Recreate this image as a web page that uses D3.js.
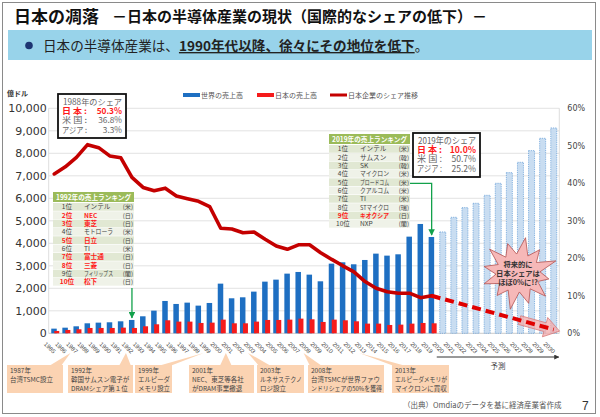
<!DOCTYPE html>
<html>
<head>
<meta charset="utf-8">
<script src="https://cdn.jsdelivr.net/npm/d3@7"></script>
<style>
  body { margin: 0; background: #fff; }
  svg { display: block; font-family: "Noto Sans CJK JP", sans-serif; }
</style>
</head>
<body>
<div id="wrapper"></div>
<script>
/* DATA */
const years = ['1985','1986','1987','1988','1989','1990','1991','1992','1993','1994',
  '1995','1996','1997','1998','1999','2000','2001','2002','2003','2004',
  '2005','2006','2007','2008','2009','2010','2011','2012','2013','2014',
  '2015','2016','2017','2018','2019','2020','2021','2022','2023','2024',
  '2025','2026','2027','2028','2029','2030'];
const actualYears = years.slice(0, 35);   // 1985-2019
const forecastYears = years.slice(35);    // 2020-2030

// 世界の売上高 (億ドル) 1985-2019
const worldSales = [207, 250, 311, 444, 474, 489, 533, 593, 756, 1007,
  1437, 1304, 1363, 1230, 1348, 2207, 1556, 1600, 1852, 2296,
  2385, 2652, 2726, 2607, 2311, 3096, 3156, 3067, 3259, 3541,
  3452, 3511, 4296, 4859, 4281];
// 予測 2020-2030
const worldForecast = [4504, 5156, 5585, 5778, 6133, 6667, 7141, 7600, 8119, 8667, 9126];
// 日本の売上高 (億ドル) 1985-2019
const japanSales = [104, 148, 178, 237, 237, 237, 252, 237, 311, 400,
  578, 519, 519, 459, 474, 607, 444, 444, 519, 593,
  593, 607, 652, 622, 504, 607, 578, 533, 430, 430,
  370, 385, 430, 459, 444];
// 日本企業のシェア推移 (%) 1985-2019
const japanShare = [42.5, 44.4, 46.9, 50.3, 49.5, 47.3, 46.8, 41.6, 38.9, 38.0,
  38.7, 36.6, 35.9, 35.2, 33.8, 28.0, 27.8, 26.8, 27.0, 25.1,
  23.3, 22.4, 23.6, 23.6, 21.5, 19.7, 18.0, 16.4, 13.8, 12.0,
  11.1, 10.7, 10.7, 9.5, 10.0];
const shareForecastYears = ['2019', '2030'];
const shareForecast = [10.0, 1.0];

const leftTicks = [0, 1000, 2000, 3000, 4000, 5000, 6000, 7000, 8000, 9000, 10000];
const rightTicks = [0, 10, 20, 30, 40, 50, 60];

const rank1992Names = ['インテル','NEC','東芝','モトローラ','日立','TI','富士通','三菱','フィリップス','松下'];
const rank1992Countries = ['米','日','日','米','日','米','日','日','蘭','日'];
const rank2019Names = ['インテル','サムスン','SK','マイクロン','ブロードコム','クアルコム','TI','STマイクロ','キオクシア','NXP'];
const rank2019Countries = ['米','韓','韓','米','米','米','米','瑞','日','蘭'];

const shareLabels = ['日 本 :', '米 国 :', 'アジア :'];
const share1988 = ['50.3%', '36.8%', '3.3%'];
const share2019 = ['10.0%', '50.7%', '25.2%'];

const events = [
  { year: '1987', lines: ['1987年', '台湾TSMC設立'] },
  { year: '1992', lines: ['1992年', '韓国サムスン電子が', 'DRAMシェア第１位'] },
  { year: '1999', lines: ['1999年', 'エルピーダ', 'メモリ設立'] },
  { year: '2001', lines: ['2001年', 'NEC、東芝等各社', 'がDRAM事業撤退'] },
  { year: '2003', lines: ['2003年', 'ルネサステクノ', 'ロジ設立'] },
  { year: '2008', lines: ['2008年', '台湾TSMCが世界ファウ', 'ンドリシェアの50%を獲得'] },
  { year: '2013', lines: ['2013年', 'エルピーダメモリが', 'マイクロンに買収'] },
];
// box spans for the event callouts (layout)
const eventBoxes = [[7, 63], [68, 133], [135, 172], [189, 254], [257, 304], [308, 384], [392, 449]];

/* DIMENSIONS */
const width = 600, height = 417;
const plot = { left: 48.7, right: 559.3, top: 108.3, bottom: 333.3 };

const svg = d3.select('#wrapper').append('svg')
  .attr('width', width).attr('height', height);

// squeeze a text into maxW if it runs wider
function fit(sel, maxW) {
  const n = sel.node();
  if (n.getComputedTextLength() > maxW) {
    sel.attr('textLength', maxW).attr('lengthAdjust', 'spacingAndGlyphs');
  }
  return sel;
}

/* SCALES */
const xScale = d3.scaleBand().domain(years).range([plot.left, plot.right]);
const cx = d => xScale(d) + xScale.bandwidth() / 2;
const yScale = d3.scaleLinear().domain([0, 10000]).range([plot.bottom, plot.top]);
const shareScale = d3.scaleLinear().domain([0, 60]).range([plot.bottom, plot.top]);

/* SLIDE FRAME + TITLE */
svg.append('rect').attr('x', 2.5).attr('y', 2.5).attr('width', 593).attr('height', 411)
  .attr('fill', 'none').attr('stroke', '#8a8a8a');

svg.append('text').attr('x', 14).attr('y', 23)
  .style('font-size', '17px').style('font-weight', 'bold').attr('fill', '#111')
  .text('日本の凋落');
svg.append('text').attr('x', 112).attr('y', 22)
  .style('font-size', '15px').style('font-weight', 'bold').attr('fill', '#111')
  .attr('textLength', 375)
  .text('－日本の半導体産業の現状（国際的なシェアの低下）－');

svg.append('rect').attr('x', 8).attr('y', 30).attr('width', 584).attr('height', 30)
  .attr('fill', '#98d3ea');
svg.append('circle').attr('cx', 29).attr('cy', 45.5).attr('r', 3.8).attr('fill', '#1d3572');
const lead = svg.append('text').attr('x', 43).attr('y', 51)
  .style('font-size', '13.6px').attr('fill', '#222');
lead.append('tspan').text('日本の半導体産業は、');
lead.append('tspan').style('font-weight', 'bold').style('text-decoration', 'underline')
  .text('1990年代以降、徐々にその地位を低下');
lead.append('tspan').text('。');

/* GRID */
const grid = svg.append('g');
grid.selectAll('line').data(leftTicks).join('line')
  .attr('x1', plot.left).attr('x2', plot.right)
  .attr('y1', d => yScale(d)).attr('y2', d => yScale(d))
  .attr('stroke', d => d === 0 ? '#bdbdbd' : '#dadada').attr('stroke-width', 0.8);
[plot.left, plot.right].forEach(xp => {
  grid.append('line').attr('x1', xp).attr('x2', xp)
    .attr('y1', plot.top).attr('y2', plot.bottom)
    .attr('stroke', '#d4d4d4').attr('stroke-width', 0.8);
});

/* AXES */
const leftAxis = svg.append('g').attr('transform', `translate(${plot.left},0)`)
  .call(d3.axisLeft(yScale).tickValues(leftTicks).tickFormat(d3.format(',')).tickSize(0).tickPadding(2));
leftAxis.select('.domain').remove();
leftAxis.selectAll('text').style('font-family', '"DejaVu Sans"').style('font-size', '11px').attr('fill', '#333');

const rightAxis = svg.append('g').attr('transform', `translate(${plot.right + 2},0)`)
  .call(d3.axisRight(shareScale).tickValues(rightTicks).tickFormat(d => d + '%').tickSize(0).tickPadding(6));
rightAxis.select('.domain').remove();
rightAxis.selectAll('text').style('font-family', '"DejaVu Sans"').style('font-size', '8px').attr('fill', '#444');

const xAxis = svg.append('g').attr('transform', `translate(0,${plot.bottom})`)
  .call(d3.axisBottom(xScale).tickSize(0));
xAxis.select('.domain').remove();
xAxis.selectAll('text')
  .attr('x', -4.5).attr('y', 14.5).attr('dy', null)
  .attr('dominant-baseline', 'central')
  .attr('transform', 'rotate(45,-4.5,14.5)')
  .style('text-anchor', 'middle')
  .style('font-family', '"Liberation Sans"').style('font-size', '6px').attr('fill', '#444');

svg.append('text').attr('x', 7).attr('y', 96)
  .style('font-size', '7px').style('font-weight', 'bold').attr('fill', '#333').text('億ドル');

/* BARS */
svg.append('g').selectAll('rect').data(forecastYears).join('rect')
  .attr('x', d => cx(d) - 3).attr('width', 6)
  .attr('y', (d, i) => yScale(worldForecast[i]))
  .attr('height', (d, i) => plot.bottom - yScale(worldForecast[i]))
  .attr('fill', '#c9ddf1').attr('stroke', '#5d9ad6').attr('stroke-width', 0.7)
  .attr('stroke-dasharray', '1.2,1');

svg.append('g').selectAll('rect').data(actualYears).join('rect')
  .attr('x', d => cx(d) - 3).attr('width', 5.5)
  .attr('y', (d, i) => yScale(worldSales[i]))
  .attr('height', (d, i) => plot.bottom - yScale(worldSales[i]))
  .attr('fill', '#1e6fc2');

svg.append('g').selectAll('rect').data(actualYears).join('rect')
  .attr('x', d => cx(d)).attr('width', 5)
  .attr('y', (d, i) => yScale(japanSales[i]))
  .attr('height', (d, i) => plot.bottom - yScale(japanSales[i]))
  .attr('fill', '#f51b1b');

/* SHARE LINE */
const shareLine = d3.line().x(d => cx(d[0])).y(d => shareScale(d[1]));
svg.append('path')
  .attr('d', shareLine(actualYears.map((y, i) => [y, japanShare[i]])))
  .attr('fill', 'none').attr('stroke', '#c40000').attr('stroke-width', 3.6)
  .attr('stroke-linejoin', 'round').attr('stroke-linecap', 'round');

// forecast: translucent block-arrow head + thick dashes
const p0 = [cx(shareForecastYears[0]), shareScale(shareForecast[0])];
const p1 = [cx(shareForecastYears[1]), shareScale(shareForecast[1])];
const len = Math.hypot(p1[0] - p0[0], p1[1] - p0[1]);
const ux = (p1[0] - p0[0]) / len, uy = (p1[1] - p0[1]) / len;
const nx = -uy, ny = ux;
const tip = [p1[0] + ux * 6, p1[1] + uy * 6];
const headBase = [tip[0] - ux * 15, tip[1] - uy * 15];
const shaftStart = [p0[0] + ux * len * 0.72, p0[1] + uy * len * 0.72];
const pt = (p, k) => [p[0] + nx * k, p[1] + ny * k];
svg.append('polygon')
  .attr('points', [pt(shaftStart, -4.5), pt(headBase, -4.5), pt(headBase, -10), tip,
    pt(headBase, 10), pt(headBase, 4.5), pt(shaftStart, 4.5)].map(p => p.join(',')).join(' '))
  .attr('fill', '#f3a9a9').attr('fill-opacity', 0.75)
  .attr('stroke', '#d77b7b').attr('stroke-width', 0.8);
svg.append('path')
  .attr('d', shareLine(shareForecastYears.map((y, i) => [y, shareForecast[i]])))
  .attr('fill', 'none').attr('stroke', '#e00000').attr('stroke-width', 4)
  .attr('stroke-dasharray', '9,5');

/* LEGEND */
const legend = svg.append('g').style('font-size', '7px').attr('fill', '#555');
legend.append('rect').attr('x', 183).attr('y', 93).attr('width', 17).attr('height', 4).attr('fill', '#1e6fc2');
legend.append('text').attr('x', 201).attr('y', 97.5).text('世界の売上高');
legend.append('rect').attr('x', 257).attr('y', 93).attr('width', 17).attr('height', 4).attr('fill', '#f51b1b');
legend.append('text').attr('x', 275).attr('y', 97.5).text('日本の売上高');
legend.append('line').attr('x1', 330).attr('x2', 347).attr('y1', 95).attr('y2', 95)
  .attr('stroke', '#c40000').attr('stroke-width', 3);
legend.append('text').attr('x', 348).attr('y', 97.5).text('日本企業のシェア推移');

/* SHARE BOXES */
function shareBox(x0, y0, w, h, title, values, fs) {
  const g = svg.append('g').style('font-size', fs + 'px');
  g.append('rect').attr('x', x0).attr('y', y0).attr('width', w).attr('height', h)
    .attr('fill', '#fff').attr('stroke', '#111').attr('stroke-width', 1.8);
  fit(g.append('text').attr('x', x0 + 5).attr('y', y0 + 10.5).attr('fill', '#666').text(title), w - 9);
  values.forEach((v, i) => {
    const red = i === 0;
    const yy = y0 + 20 + i * 9.3;
    const col = red ? '#ff1a1a' : '#666';
    const fw = red ? 'bold' : 'normal';
    g.append('text').attr('x', x0 + 4).attr('y', yy)
      .attr('fill', col).style('font-weight', fw)
      .attr('textLength', 25).attr('lengthAdjust', 'spacingAndGlyphs')
      .text(shareLabels[i]);
    fit(g.append('text').attr('x', x0 + w - 4).attr('y', yy).attr('text-anchor', 'end')
      .attr('fill', col).style('font-weight', fw).text(v), w - 38);
  });
}
shareBox(58, 94, 68, 44, '1988年のシェア', share1988, 8.3);
shareBox(413, 133, 67, 44, '2019年のシェア', share2019, 8.6);

/* RANKING TABLES */
function rankTable(x0, y0, title, names, countries) {
  const w = 81, rowH = 8.33, headH = 10;
  const g = svg.append('g').style('font-size', '6.6px');
  g.append('rect').attr('x', x0).attr('y', y0).attr('width', w).attr('height', headH).attr('fill', '#9bbb59');
  fit(g.append('text').attr('x', x0 + w / 2).attr('y', y0 + 7.5).attr('text-anchor', 'middle')
    .attr('fill', '#fff').style('font-weight', 'bold').style('font-size', '7px').text(title), w - 6);
  names.forEach((n, i) => {
    const ry = y0 + headH + 1 + i * rowH;
    const jp = countries[i] === '日';
    const col = jp ? '#ff1a1a' : '#444';
    const fw = jp ? 'bold' : 'normal';
    g.append('rect').attr('x', x0).attr('y', ry).attr('width', w).attr('height', rowH - 0.6)
      .attr('fill', i % 2 === 0 ? '#e1e8d3' : '#eff2e8');
    const by = ry + rowH / 2 + 2.2;
    g.append('text').attr('x', x0 + 14).attr('y', by).attr('text-anchor', 'middle')
      .attr('fill', col).style('font-weight', fw).text((i + 1) + '位');
    fit(g.append('text').attr('x', x0 + 31).attr('y', by)
      .attr('fill', col).style('font-weight', fw).text(n), 29);
    g.append('text').attr('x', x0 + w - 1).attr('y', by).attr('text-anchor', 'end')
      .attr('fill', '#444').style('font-size', '6.2px').text('(' + countries[i] + ')');
  });
}
rankTable(53, 192, '1992年の売上ランキング', rank1992Names, rank1992Countries);
rankTable(329, 134, '2019年の売上ランキング', rank2019Names, rank2019Countries);

/* GREEN POINTERS */
svg.append('defs').append('marker').attr('id', 'garrow')
  .attr('viewBox', '0 0 10 10').attr('refX', 9).attr('refY', 5)
  .attr('markerWidth', 5).attr('markerHeight', 5).attr('orient', 'auto')
  .append('path').attr('d', 'M0,0L10,5L0,10z').attr('fill', '#12a14b');
svg.append('path')
  .attr('d', `M${cx('1992')},288V${yScale(worldSales[7]) - 2}`)
  .attr('stroke', '#12a14b').attr('stroke-width', 1.3).attr('fill', 'none')
  .attr('marker-end', 'url(#garrow)');
svg.append('path')
  .attr('d', `M410,183.3H${cx('2019')}V${yScale(worldSales[34]) - 2}`)
  .attr('stroke', '#12a14b').attr('stroke-width', 1.3).attr('fill', 'none')
  .attr('marker-end', 'url(#garrow)');

/* STARBURST */
const starC = [518, 273];
const starOuter = [36, 31, 38, 30, 35, 32, 37, 30, 34, 33, 36, 31];
const starPts = [];
starOuter.forEach((r, i) => {
  const a = (i / starOuter.length) * Math.PI * 2 - Math.PI / 2 + 0.2;
  const a2 = a + Math.PI / starOuter.length;
  starPts.push([starC[0] + Math.cos(a) * r * 1.05, starC[1] + Math.sin(a) * r]);
  starPts.push([starC[0] + Math.cos(a2) * 21 * 1.05, starC[1] + Math.sin(a2) * 19]);
});
svg.append('polygon').attr('points', starPts.map(p => p.join(',')).join(' '))
  .attr('fill', '#f6b8b8').attr('stroke', '#b5524f').attr('stroke-width', 0.8);
['将来的に', '日本シェアは', 'ほぼ0%に!?'].forEach((t, i) => {
  svg.append('text').attr('x', starC[0]).attr('y', 266.5 + i * 9)
    .attr('text-anchor', 'middle').style('font-size', '7.3px').style('font-weight', 'bold')
    .attr('fill', '#333').text(t);
});

/* FORECAST ARROW */
svg.append('defs').append('marker').attr('id', 'karrow')
  .attr('viewBox', '0 0 10 10').attr('refX', 9).attr('refY', 5)
  .attr('markerWidth', 5).attr('markerHeight', 5).attr('orient', 'auto')
  .append('path').attr('d', 'M0,0L10,5L0,10z').attr('fill', '#333');
svg.append('line').attr('x1', cx('2020') - 6).attr('x2', cx('2030') + 5)
  .attr('y1', 357).attr('y2', 357).attr('stroke', '#333').attr('stroke-width', 1)
  .attr('marker-end', 'url(#karrow)');
svg.append('text').attr('x', 498).attr('y', 368.5).attr('text-anchor', 'middle')
  .style('font-size', '7.5px').attr('fill', '#444').text('予測');

/* EVENT CALLOUTS */
events.forEach((ev, i) => {
  const [bx0, bx1] = eventBoxes[i];
  const top = 365, bottom = 393;
  const apex = [cx(ev.year) - 6, 353];
  const bc = Math.max(bx0 + 8, Math.min(bx1 - 8, apex[0]));
  const g = svg.append('g');
  g.append('polygon')
    .attr('points', `${bc - 6},${top + 1} ${apex[0]},${apex[1]} ${bc + 6},${top + 1}`)
    .attr('fill', '#fbd3b2');
  g.append('rect').attr('x', bx0).attr('y', top).attr('width', bx1 - bx0).attr('height', bottom - top)
    .attr('fill', '#fbd3b2');
  ev.lines.forEach((t, j) => {
    fit(g.append('text').attr('x', bx0 + 3).attr('y', 372.5 + j * 9.2)
      .style('font-size', '6.5px').attr('fill', '#444').text(t), bx1 - bx0 - 5);
  });
});

/* SOURCE + PAGE */
svg.append('text').attr('x', 403).attr('y', 408).style('font-size', '7.5px').attr('fill', '#555')
  .text('（出典）Omdiaのデータを基に経済産業省作成');
svg.append('text').attr('x', 582).attr('y', 410).style('font-size', '12px').attr('fill', '#333')
  .style('font-family', '"Liberation Sans"').text('7');
</script>
</body>
</html>
